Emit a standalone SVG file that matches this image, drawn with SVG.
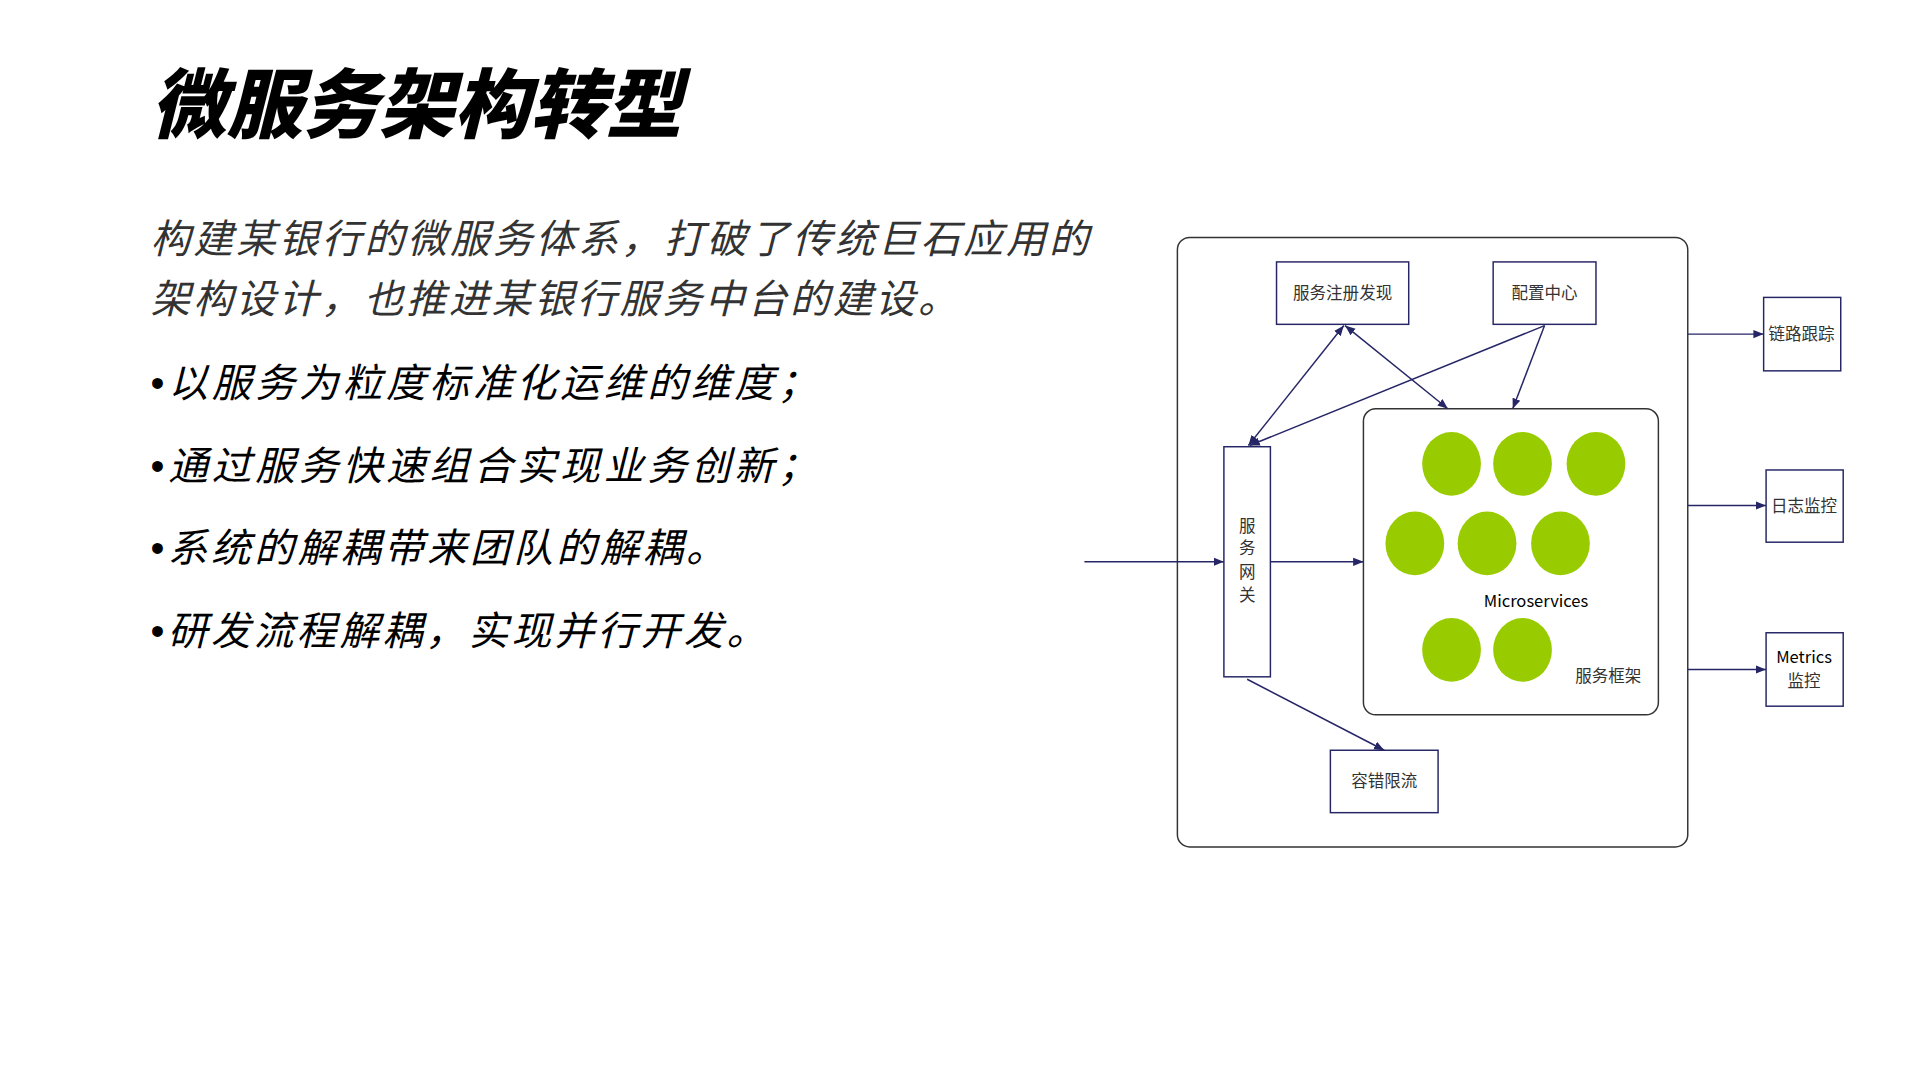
<svg xmlns="http://www.w3.org/2000/svg" width="1919" height="1079" viewBox="0 0 1919 1079">
<style>
.t{font-family:"Noto Sans CJK SC","Noto Sans",sans-serif;}
.title{font-size:62px;font-weight:900;font-style:italic;fill:#000;}
.para{font-size:32.5px;font-style:italic;fill:#333;letter-spacing:0.5px;}
.bl{font-size:32.5px;font-style:italic;fill:#000;letter-spacing:0px;}
.bu{font-family:"Liberation Sans",sans-serif;font-style:normal;}
.nb{fill:#fff;stroke:#262666;stroke-width:1.2;}
.nt{font-size:13.5px;fill:#333;text-anchor:middle;}
.c{fill:none;stroke:#262666;stroke-width:1.2;}
.g{fill:#99cc00;}
</style>
<defs>
<marker id="a" viewBox="0 0 10 10" refX="10" refY="5" markerWidth="7" markerHeight="7" orient="auto-start-reverse"><path d="M0,1 L10,5 L0,9 z" fill="#262666"/></marker>
</defs>
<rect width="1919" height="1079" fill="#fff"/>
<g transform="scale(1.2239)">
<g id="text">
<text class="t title" x="123" y="108">微服务架构转型</text>
<text class="t para" x="123" y="207" textLength="767">构建某银行的微服务体系，打破了传统巨石应用的</text>
<text class="t para" x="123" y="256" textLength="660">架构设计，也推进某银行服务中台的建设。</text>
<text class="t bl" x="123" y="324" textLength="545" lengthAdjust="spacing"><tspan class="bu">•</tspan>以服务为粒度标准化运维的维度；</text>
<text class="t bl" x="123" y="392" textLength="545" lengthAdjust="spacing"><tspan class="bu">•</tspan>通过服务快速组合实现业务创新；</text>
<text class="t bl" x="123" y="459" textLength="470" lengthAdjust="spacing"><tspan class="bu">•</tspan>系统的解耦带来团队的解耦。</text>
<text class="t bl" x="123" y="527" textLength="503" lengthAdjust="spacing"><tspan class="bu">•</tspan>研发流程解耦，实现并行开发。</text>
</g>
<g id="outer"><rect x="962" y="194" width="417" height="498" rx="10" fill="none" stroke="#333" stroke-width="1.2"/></g>
<g id="registry"><rect class="nb" x="1043" y="214" width="108" height="51"/><text class="t nt" x="1097" y="244">服务注册发现</text></g>
<g id="config"><rect class="nb" x="1220" y="214" width="84" height="51"/><text class="t nt" x="1262" y="244">配置中心</text></g>
<g id="gateway"><rect class="nb" x="1000" y="365" width="38" height="188"/>
<text class="t nt" x="1019" y="435">服</text><text class="t nt" x="1019" y="453">务</text><text class="t nt" x="1019" y="472">网</text><text class="t nt" x="1019" y="491">关</text></g>
<g id="micro"><rect x="1114" y="334" width="241" height="250" rx="10" fill="#fff" stroke="#333" stroke-width="1.2"/>
<ellipse class="g" cx="1186" cy="379" rx="24" ry="26"/><ellipse class="g" cx="1244" cy="379" rx="24" ry="26"/><ellipse class="g" cx="1304" cy="379" rx="24" ry="26"/>
<ellipse class="g" cx="1156" cy="444" rx="24" ry="26"/><ellipse class="g" cx="1215" cy="444" rx="24" ry="26"/><ellipse class="g" cx="1275" cy="444" rx="24" ry="26"/>
<ellipse class="g" cx="1186" cy="531" rx="24" ry="26"/><ellipse class="g" cx="1244" cy="531" rx="24" ry="26"/>
<text class="t nt" x="1255" y="496" style="fill:#000">Microservices</text>
<text class="t nt" x="1314" y="557">服务框架</text></g>
<g id="fault"><rect class="nb" x="1087" y="613" width="88" height="51"/><text class="t nt" x="1131" y="643">容错限流</text></g>
<g id="trace"><rect class="nb" x="1441" y="243" width="63" height="60"/><text class="t nt" x="1472" y="278">链路跟踪</text></g>
<g id="log"><rect class="nb" x="1443" y="384" width="63" height="59"/><text class="t nt" x="1474" y="418">日志监控</text></g>
<g id="metrics"><rect class="nb" x="1443" y="517" width="63" height="60"/><text class="t nt" x="1474" y="542" style="fill:#000">Metrics</text><text class="t nt" x="1474" y="561">监控</text></g>
<g id="connectors">
<line class="c" x1="886" y1="459" x2="1000" y2="459" marker-end="url(#a)"/>
<line class="c" x1="1038" y1="459" x2="1114" y2="459" marker-end="url(#a)"/>
<line class="c" x1="1098" y1="266" x2="1020" y2="364" marker-start="url(#a)" marker-end="url(#a)"/>
<line class="c" x1="1099" y1="266" x2="1183" y2="334" marker-start="url(#a)" marker-end="url(#a)"/>
<line class="c" x1="1262" y1="266" x2="1021" y2="364" marker-end="url(#a)"/>
<line class="c" x1="1262" y1="266" x2="1236" y2="334" marker-end="url(#a)"/>
<line class="c" x1="1019" y1="555" x2="1131" y2="613" marker-end="url(#a)"/>
<line class="c" x1="1379" y1="273" x2="1441" y2="273" marker-end="url(#a)"/>
<line class="c" x1="1379" y1="413" x2="1443" y2="413" marker-end="url(#a)"/>
<line class="c" x1="1379" y1="547" x2="1443" y2="547" marker-end="url(#a)"/>
</g>
</g>
</svg>
